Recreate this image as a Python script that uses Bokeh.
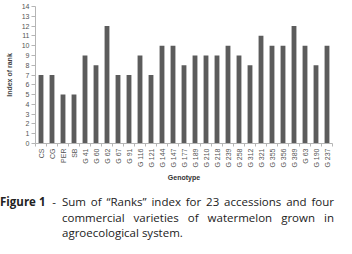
import math
from bokeh.plotting import figure
from bokeh.layouts import column
from bokeh.models import Range1d, FixedTicker, ColumnDataSource, Div
from bokeh.embed import file_html
from bokeh.resources import INLINE

genotypes = ["CS", "CG", "PER", "SB", "G 41", "G 60", "G 62", "G 67", "G 91", "G 116",
             "G 121", "G 144", "G 147", "G 177", "G 189", "G 210", "G 218", "G 239",
             "G 258", "G 312", "G 321", "G 355", "G 356", "G 389", "G 63", "G 190", "G 237"]
rank_index = [7, 7, 5, 5, 9, 8, 12, 7, 7, 9, 7, 10, 10, 8, 9, 9, 9, 10, 9, 8, 11, 10, 10, 12, 10, 8, 10]
y_ticks = list(range(0, 15))

caption_label = "Figure 1"
caption_line1 = "Sum of \u201cRanks\u201d index for 23 accessions and four"
caption_line2 = "commercial varieties of watermelon grown in"
caption_line3 = "agroecological system."

xpos = [i + 0.5 for i in range(len(genotypes))]
src = ColumnDataSource(dict(x=xpos, top=rank_index, name=genotypes))

W = 336
p = figure(width=W, height=183, output_backend="svg", toolbar_location=None,
           x_range=Range1d(0, len(genotypes)), y_range=Range1d(0, 14),
           min_border_left=35, min_border_right=4, min_border_top=6, min_border_bottom=39)
p.outline_line_color = None
p.grid.visible = False

p.vbar(x="x", top="top", width=0.44, source=src, fill_color="#5c5c5c", line_color=None)

axis_font = "Liberation Sans"
xa = p.xaxis[0]
xa.ticker = FixedTicker(ticks=xpos, minor_ticks=list(range(len(genotypes) + 1)))
xa.major_label_overrides = {x: g for x, g in zip(xpos, genotypes)}
xa.major_label_orientation = math.pi / 2
xa.major_tick_line_color = None
xa.major_tick_out = 3
xa.major_tick_in = 0
xa.minor_tick_line_color = "#b5b5b5"
xa.minor_tick_out = 3
xa.minor_tick_in = 0
xa.axis_line_color = "#b5b5b5"
xa.major_label_text_font = axis_font
xa.major_label_text_font_size = "7px"
xa.major_label_text_color = "#555555"
xa.major_label_standoff = 2
xa.axis_label = "Genotype"
xa.axis_label_text_font = axis_font
xa.axis_label_text_font_size = "7px"
xa.axis_label_text_font_style = "bold"
xa.axis_label_text_color = "#333333"
xa.axis_label_standoff = 3

ya = p.yaxis[0]
ya.ticker = FixedTicker(ticks=y_ticks)
ya.minor_tick_line_color = None
ya.major_tick_line_color = "#b5b5b5"
ya.major_tick_out = 4
ya.major_tick_in = 0
ya.axis_line_color = "#b5b5b5"
ya.major_label_text_font = axis_font
ya.major_label_text_font_size = "7px"
ya.major_label_text_color = "#555555"
ya.major_label_standoff = 2
ya.axis_label = "Index of rank"
ya.axis_label_text_font = axis_font
ya.axis_label_text_font_size = "7px"
ya.axis_label_text_font_style = "bold"
ya.axis_label_text_color = "#444444"
ya.axis_label_standoff = 6

just = "text-align:justify;text-align-last:justify;white-space:nowrap;"
indent = 62
label_w = 46
html = (
    '<div style="font-family:\'Open Sans\';font-size:11.5px;line-height:15.7px;color:#222;'
    'padding-top:11px;width:334px;">'
    f'<div style="display:flex;white-space:nowrap;">'
    f'<span style="width:{label_w}px;font-weight:bold;">{caption_label}</span>'
    f'<span style="width:{indent - label_w}px;text-align:center;">-</span>'
    f'<span style="flex:1;{just}">{caption_line1}</span></div>'
    f'<div style="padding-left:{indent}px;{just}">{caption_line2}</div>'
    f'<div style="padding-left:{indent}px;white-space:nowrap;">{caption_line3}</div>'
    '</div>'
)
cap = Div(text=html, width=W, height=63, styles={"margin": "0", "padding": "0"})

layout = column(p, cap, spacing=0)
open("out.html", "w").write(file_html(layout, INLINE))
